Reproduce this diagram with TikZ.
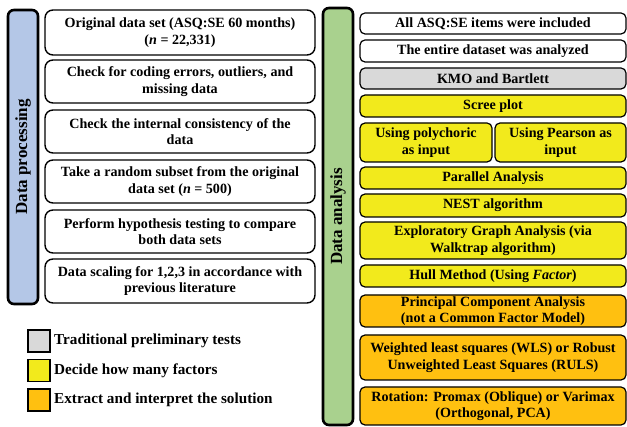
\documentclass[tikz,border=0pt]{standalone}
\usepackage{fontspec}
\setmainfont{Liberation Serif}
\definecolor{cblue}{RGB}{180,199,231}
\definecolor{cgreen}{RGB}{169,209,142}
\definecolor{cgray}{RGB}{217,217,217}
\definecolor{cyellow}{RGB}{242,234,28}
\definecolor{corange}{RGB}{255,192,16}
\begin{document}
\begin{tikzpicture}[x=1pt,y=-1pt,
  txt/.style={font=\fontsize{14.1}{16.5}\selectfont\bfseries, align=center},
  lbox/.style={txt, draw=black, line width=1.4pt, rounded corners=8pt, fill=white, inner sep=0pt, minimum width=270pt},
  rbox/.style={txt, draw=black, line width=1.2pt, rounded corners=5pt, inner sep=0pt, minimum width=266pt},
  halfbox/.style={rbox, minimum width=131pt},
  bar/.style={draw=black, line width=2.6pt, rounded corners=6pt, inner sep=0pt, minimum width=30pt},
  barlabel/.style={rotate=90, font=\fontsize{17}{20}\selectfont\bfseries},
  legsq/.style={draw=black, line width=1.2pt, inner sep=0pt, minimum width=22pt, minimum height=22pt},
  legtxt/.style={font=\fontsize{15.2}{17}\selectfont\bfseries, anchor=west, inner sep=0pt}
]
\useasboundingbox (0,0) rectangle (627,427);
% bars
\node[bar, fill=cblue, minimum height=294pt] (pbar) at (23,157) {};
\node[barlabel] (plab) at (pbar.center) {Data processing};
\node[bar, fill=cgreen, minimum height=417pt] (abar) at (338,216.5) {};
\node[barlabel] (alab) at (abar.center) {Data analysis};
% left boxes
\node[lbox, minimum height=45pt] (l1) at (180,32.5) {Original data set (ASQ:SE 60 months)\\(\textit{n} = 22,331)};
\node[lbox, minimum height=43pt] (l2) at (180,81.5) {Check for coding errors, outliers, and\\missing data};
\node[lbox, minimum height=43pt] (l3) at (180,131.5) {Check the internal consistency of the\\data};
\node[lbox, minimum height=43pt] (l4) at (180,181.5) {Take a random subset from the original\\data set (\textit{n} = 500)};
\node[lbox, minimum height=43pt] (l5) at (180,231.5) {Perform hypothesis testing to compare\\both data sets};
\node[lbox, minimum height=44pt] (l6) at (180,281) {Data scaling for 1,2,3 in accordance with\\previous literature};
% right boxes
\node[rbox, fill=white, minimum height=21pt] (r1) at (493,23.5) {All ASQ:SE items were included};
\node[rbox, fill=white, minimum height=22pt] (r2) at (493,51) {The entire dataset was analyzed};
\node[rbox, fill=cgray, minimum height=21pt] (r3) at (493,78.5) {KMO and Bartlett};
\node[rbox, fill=cyellow, minimum height=22pt] (r4) at (493,106) {Scree plot};
\node[halfbox, fill=cyellow, minimum height=39pt, minimum width=132pt] (r5a) at (426,142.5) {Using polychoric\\as input};
\node[halfbox, fill=cyellow, minimum height=39pt] (r5b) at (560.5,142.5) {Using Pearson as\\input};
\node[rbox, fill=cyellow, minimum height=22pt] (r6) at (493,178) {Parallel Analysis};
\node[rbox, fill=cyellow, minimum height=23pt] (r7) at (493,205.5) {NEST algorithm};
\node[rbox, fill=cyellow, minimum height=37pt] (r8) at (493,240.5) {Exploratory Graph Analysis (via\\Walktrap algorithm)};
\node[rbox, fill=cyellow, minimum height=22pt] (r9) at (493,276) {Hull Method (Using \textit{Factor})};
\node[rbox, fill=corange, minimum height=32pt] (r10) at (493,311) {Principal Component Analysis\\(not a Common Factor Model)};
\node[rbox, fill=corange, minimum height=45pt] (r11) at (493,357.5) {Weighted least squares (WLS) or Robust\\Unweighted Least Squares (RULS)};
\node[rbox, fill=corange, minimum height=38pt] (r12) at (493,406) {Rotation: Promax (Oblique) or Varimax\\(Orthogonal, PCA)};
% legend
\node[legsq, fill=cgray] (g1) at (39,341) {};
\node[legsq, fill=cyellow] (g2) at (39,370.5) {};
\node[legsq, fill=corange] (g3) at (39,400) {};
\node[legtxt] (t1) at (54,341) {Traditional preliminary tests};
\node[legtxt] (t2) at (54,370.5) {Decide how many factors};
\node[legtxt] (t3) at (54,400) {Extract and interpret the solution};
\end{tikzpicture}
\end{document}
